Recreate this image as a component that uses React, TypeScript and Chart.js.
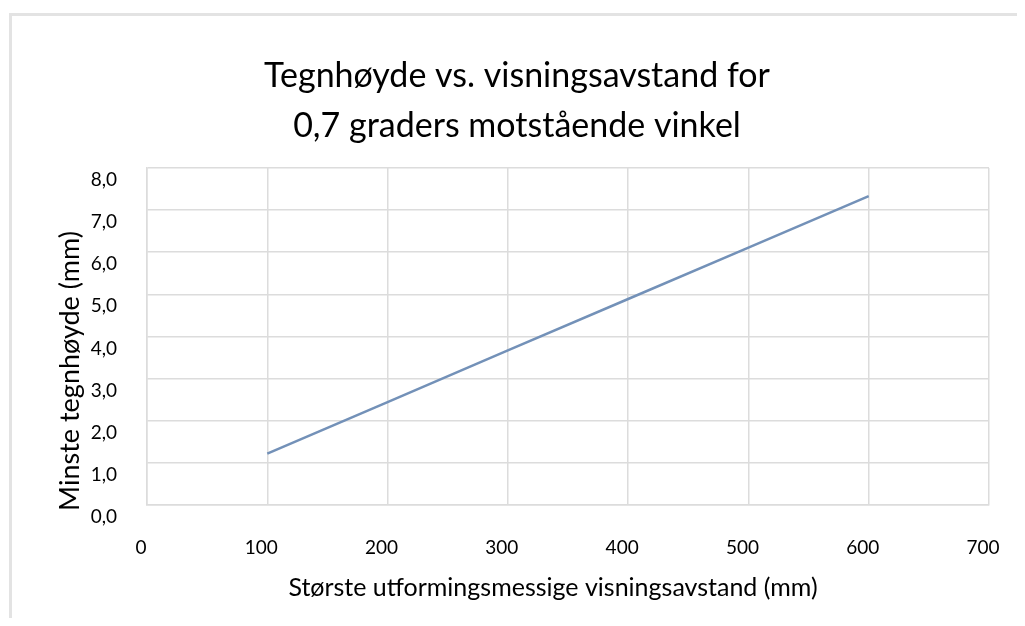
import React, { useEffect, useRef } from "react";
import { Chart, registerables } from "chart.js";

Chart.register(...registerables);

const distances = [100, 200, 300, 400, 500, 600];
const heights = [1.22, 2.44, 3.67, 4.89, 6.11, 7.33];
const titleLines = ["Tegnhøyde vs. visningsavstand for", "0,7 graders motstående vinkel"];
const xTitle = "Største utformingsmessige visningsavstand (mm)";
const yTitle = "Minste tegnhøyde (mm)";

const FONT = "Lato, 'Open Sans', sans-serif";

const axisTitlesPlugin = {
  id: "axisTitlesPlugin",
  afterDraw(chart: any) {
    const { ctx, chartArea } = chart;
    ctx.save();
    ctx.fillStyle = "#000";
    ctx.textAlign = "center";
    ctx.textBaseline = "middle";
    // x axis title
    ctx.font = `25px ${FONT}`;
    ctx.fillText(xTitle, chartArea.left + 406, chartArea.bottom + 83);
    // y axis title
    ctx.font = `27px ${FONT}`;
    ctx.translate(chartArea.left - 77, chartArea.bottom - 134);
    ctx.rotate(-Math.PI / 2);
    ctx.fillText(yTitle, 0, 0);
    ctx.restore();
  },
};

export default function App() {
  const ref = useRef<HTMLCanvasElement | null>(null);

  useEffect(() => {
    if (!ref.current) return;
    const chart = new Chart(ref.current, {
      type: "line",
      data: {
        datasets: [
          {
            data: distances.map((d, i) => ({ x: d, y: heights[i] })),
            borderColor: "#7391b8",
            borderWidth: 2.5,
            pointRadius: 0,
            fill: false,
            tension: 0,
          },
        ],
      },
      plugins: [axisTitlesPlugin],
      options: {
        animation: false,
        responsive: false,
        layout: { padding: { left: 37, right: 28, top: 0, bottom: 0 } },
        plugins: {
          legend: { display: false },
          tooltip: { enabled: false },
          title: {
            display: true,
            text: titleLines,
            color: "#000",
            font: { family: FONT, size: 34, weight: "normal", lineHeight: 1.47 },
            padding: { top: 43, bottom: 17 },
          },
        },
        scales: {
          x: {
            type: "linear",
            min: 0,
            max: 700,
            afterFit: (s: any) => {
              s.height = 113;
              s.paddingLeft = 0;
              s.paddingRight = 0;
            },
            ticks: {
              stepSize: 100,
              color: "#000",
              padding: 31,
              labelOffset: -6,
              font: { family: FONT, size: 19 },
            },
            grid: { color: "#dcdcdc", lineWidth: 1.5, drawTicks: false },
            border: { display: true, color: "#dcdcdc", width: 1.5 },
            title: { display: false },
          },
          y: {
            type: "linear",
            min: 0,
            max: 8,
            afterFit: (s: any) => {
              s.width = 102;
            },
            ticks: {
              stepSize: 1,
              color: "#000",
              padding: 30,
              labelOffset: 12,
              font: { family: FONT, size: 19 },
              callback: (v: any) => Number(v).toFixed(1).replace(".", ","),
            },
            grid: { color: "#dcdcdc", lineWidth: 1.5, drawTicks: false },
            border: { display: true, color: "#dcdcdc", width: 1.5 },
            title: { display: false },
          },
        },
      },
    });
    return () => chart.destroy();
  }, []);

  return (
    <div style={{ position: "relative", width: 1009, height: 610 }}>
      <div
        style={{
          position: "absolute",
          left: 1,
          top: 5,
          width: 1016,
          height: 613,
          borderTop: "3px solid #e3e3e3",
          borderLeft: "3px solid #e3e3e3",
          boxSizing: "border-box",
        }}
      />
      <canvas
        ref={ref}
        width={1009}
        height={610}
        style={{ position: "absolute", left: 0, top: 0, width: 1009, height: 610 }}
      />
    </div>
  );
}
